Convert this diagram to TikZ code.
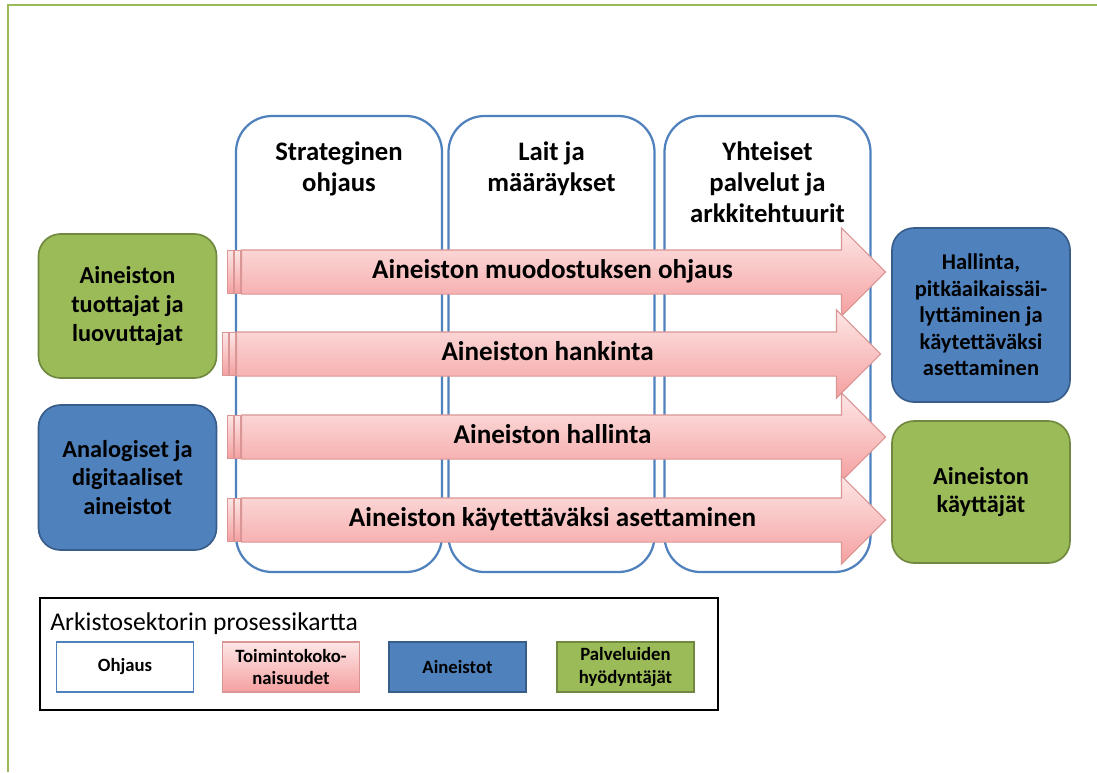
\documentclass[tikz,border=0pt]{standalone}
\usepackage{fontspec}
\setmainfont{Carlito}
\usetikzlibrary{shapes.arrows,positioning,calc}
\definecolor{colBlue}{RGB}{79,129,189}
\definecolor{colBlueDark}{RGB}{56,93,138}
\definecolor{colGreen}{RGB}{155,187,89}
\definecolor{colGreenDark}{RGB}{113,137,63}
\definecolor{arrowTop}{RGB}{253,230,230}
\definecolor{arrowBot}{RGB}{245,160,160}
\definecolor{arrowLine}{RGB}{218,150,148}
\newcommand{\pxu}{0.025cm}
\tikzset{
  column/.style={draw=colBlue, line width=1.6pt, fill=white, rounded corners=0.9cm,
    minimum width=206*\pxu, minimum height=456*\pxu},
  header/.style={font=\fontsize{19}{22}\selectfont\bfseries, align=center, inner sep=0pt},
  actor/.style={rounded corners=0.55cm, line width=1.2pt, align=center,
    font=\fontsize{17.3}{20.5}\selectfont\bfseries, minimum width=178*\pxu},
  greenbox/.style={actor, fill=colGreen, draw=colGreenDark},
  bluebox/.style={actor, fill=colBlue, draw=colBlueDark},
  procarrow/.style={single arrow, single arrow head extend=0.55cm, draw=arrowLine,
    line width=0.8pt, top color=arrowTop, bottom color=arrowBot,
    minimum height=644*\pxu, minimum width=88*\pxu, text height=0.44cm, text depth=0.1cm,
    inner ysep=0.2675cm, inner xsep=0pt, anchor=tail,
    font=\fontsize{19.3}{22}\selectfont\bfseries},
  stripe/.style={draw=arrowLine, line width=0.6pt, top color=arrowTop, bottom color=arrowBot},
  legendkey/.style={minimum width=137*\pxu, minimum height=50*\pxu, line width=1.2pt,
    align=center, font=\fontsize{13.3}{16}\selectfont\bfseries}
}
\begin{document}
\begin{tikzpicture}[x=0.025cm, y=-0.025cm]
  \useasboundingbox (0,0) rectangle (1097,772);
  \draw[colGreen, line width=1.5pt] (8,772) -- (8,5) -- (1097,5);

  % Columns
  \node[column] (strat) at (339,344) {};
  \node[column] (lait) at (551.5,344) {};
  \node[column] (yht) at (767.5,344) {};
  \node[header, below=0.66cm of strat.north] (strath) {Strateginen\\ohjaus};
  \node[header, below=0.66cm of lait.north] (laith) {Lait ja\\määräykset};
  \node[header, below=0.66cm of yht.north] (yhth) {Yhteiset\\palvelut ja\\arkkitehtuurit};

  % Process arrows
  \foreach \n/\tx/\ty/\txt in {a1/241/272/Aineiston muodostuksen ohjaus,
      a2/236/354/Aineiston hankinta,
      a3/241/437/Aineiston hallinta,
      a4/241/520/Aineiston käytettäväksi asettaminen}{
    \node[procarrow] (\n) at (\tx,\ty) {\txt};
    \draw[stripe] ($(\n.tail)+(-14,-21.5)$) rectangle ($(\n.tail)+(-8,21.5)$);
    \draw[stripe] ($(\n.tail)+(-7,-21.5)$) rectangle ($(\n.tail)+(-1,21.5)$);
  }

  % Actors
  \node[greenbox, minimum height=144*\pxu] (prod) at (127.5,306) {Aineiston\\tuottajat ja\\luovuttajat};
  \node[bluebox, minimum height=145*\pxu] (analog) at (127.5,477.5) {Analogiset ja\\digitaaliset\\aineistot};
  \node[bluebox, minimum height=174*\pxu, font=\fontsize{16}{18.8}\selectfont\bfseries] (hall) at (981,315)
    {Hallinta,\\pitkäaikaissäi-\\lyttäminen ja\\käytettäväksi\\asettaminen};
  \node[greenbox, minimum height=142*\pxu] (users) at (981,492) {Aineiston\\käyttäjät};

  % Legend
  \node[draw=black, line width=1.6pt, minimum width=678*\pxu, minimum height=112*\pxu] (legend) at (379,654) {};
  \node[anchor=base west, inner sep=0pt, font=\fontsize{18.2}{21}\selectfont] (legtitle) at (50,630) {Arkistosektorin prosessikartta};
  \node[legendkey, draw=colBlue, fill=white] (kohj) at (125,667) {Ohjaus};
  \node[legendkey, draw=arrowLine, top color=arrowTop, bottom color=arrowBot] (ktoim) at (291,667) {Toimintokoko-\\naisuudet};
  \node[legendkey, draw=colBlueDark, fill=colBlue] (kaine) at (457.5,667) {Aineistot};
  \node[legendkey, draw=colGreenDark, fill=colGreen] (kpalv) at (625.5,667) {Palveluiden\\hyödyntäjät};
\end{tikzpicture}
\end{document}
